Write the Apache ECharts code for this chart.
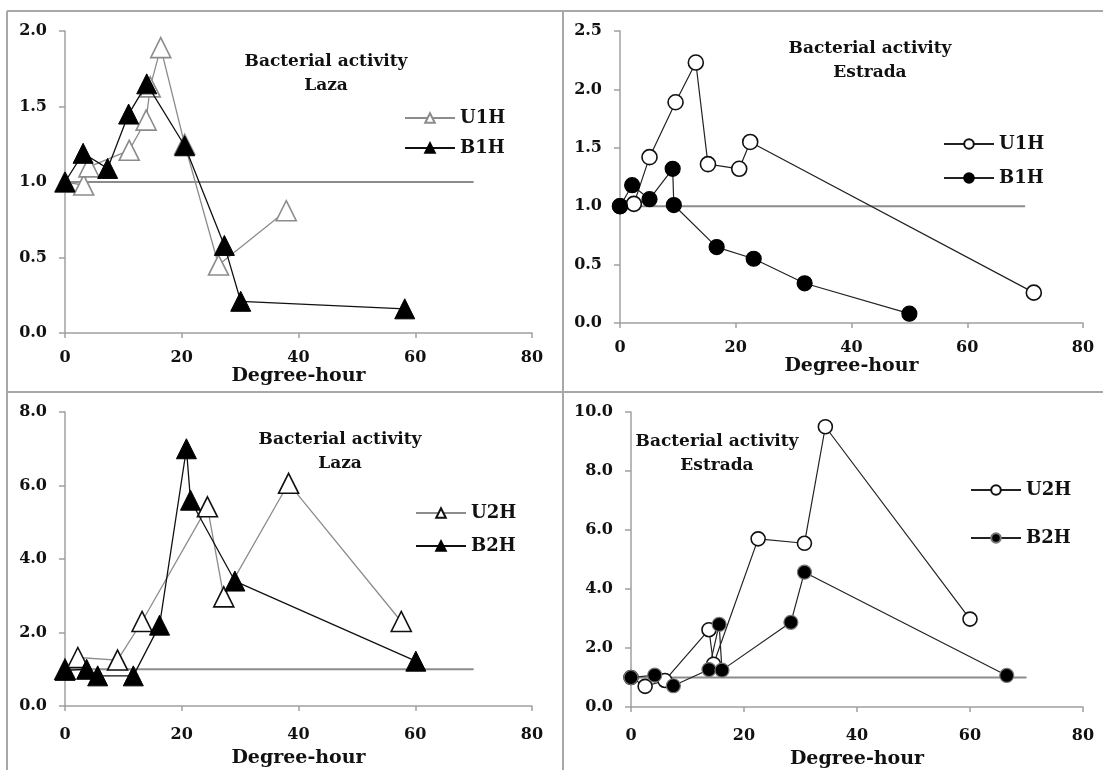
<!DOCTYPE html>
<html>
<head>
<meta charset="utf-8">
<script src="https://cdn.jsdelivr.net/npm/echarts@6/dist/echarts.min.js"></script>
<style>
html,body{margin:0;padding:0;background:#fff;}
#c{width:1103px;height:770px;}
</style>
</head>
<body>
<div id="c"></div>
<script>
// ---- data (x = degree-hour, y = bacterial activity) ----
const xTicks = [0, 20, 40, 60, 80];
const baseline = [[0, 1.0], [70, 1.0]];

// Panel A: Laza, 1H
const lazaU1H = [[0,1.0],[3.2,0.98],[4.1,1.10],[11.0,1.21],[13.9,1.41],[14.6,1.63],[16.4,1.89],[20.5,1.25],[26.3,0.45],[37.9,0.81]];
const lazaB1H = [[0,1.0],[3.1,1.19],[7.3,1.09],[10.9,1.45],[14.0,1.65],[20.5,1.24],[27.3,0.58],[30.1,0.21],[58.2,0.16]];

// Panel B: Estrada, 1H
const estU1H = [[0,1.0],[2.4,1.02],[5.1,1.42],[9.6,1.89],[13.1,2.23],[15.2,1.36],[20.6,1.32],[22.5,1.55],[71.5,0.26]];
const estB1H = [[0,1.0],[2.1,1.18],[5.1,1.06],[9.1,1.32],[9.3,1.01],[16.7,0.65],[23.1,0.55],[31.9,0.34],[50.0,0.08]];

// Panel C: Laza, 2H
const lazaU2H = [[0,1.0],[2.2,1.32],[9.0,1.25],[13.2,2.30],[24.4,5.42],[27.2,2.97],[38.3,6.06],[57.6,2.30]];
const lazaB2H = [[0,0.97],[3.7,1.0],[5.6,0.82],[11.7,0.82],[16.2,2.20],[20.8,7.00],[21.5,5.60],[29.1,3.40],[60.1,1.22]];

// Panel D: Estrada, 2H
const estU2H = [[0,1.0],[2.5,0.70],[6.0,0.90],[13.8,2.62],[14.6,1.45],[22.5,5.70],[30.7,5.55],[34.4,9.50],[60.0,2.98]];
const estB2H = [[0,1.0],[4.2,1.08],[7.5,0.72],[13.8,1.27],[15.6,2.80],[16.1,1.25],[28.3,2.87],[30.7,4.57],[66.5,1.07]];

const yMax = [2.0, 2.5, 8.0, 10.0];
const yInterval = [0.5, 0.5, 2.0, 2.0];
const titles = [['Bacterial activity','Laza'],['Bacterial activity','Estrada'],['Bacterial activity','Laza'],['Bacterial activity','Estrada']];
const xName = 'Degree-hour';

// ---- layout ----
const FONT = 'DejaVu Serif';
const grids = [
  {left: 65, top: 31, width: 467, height: 302},
  {left: 620, top: 31, width: 463, height: 292},
  {left: 65, top: 412, width: 467, height: 294},
  {left: 631, top: 412, width: 452, height: 295}
];
const labelMargin = [17, 17, 21, 21];
const nameGaps = [30, 30, 43, 43];

const chart = echarts.init(document.getElementById('c'));

const xAxes = grids.map((g, i) => ({
  type: 'value', gridIndex: i, min: xTicks[0], max: xTicks[xTicks.length-1], interval: 20,
  axisLine: {lineStyle: {color: '#a0a0a0', width: 1.5}},
  axisTick: {show: true, length: 5, lineStyle: {color: '#a0a0a0', width: 1.5}},
  splitLine: {show: false},
  axisLabel: {color: '#111', fontFamily: FONT, fontWeight: 'bold', fontSize: 16, margin: labelMargin[i]},
  name: xName, nameLocation: 'middle', nameGap: nameGaps[i],
  nameTextStyle: {color: '#111', fontFamily: FONT, fontWeight: 'bold', fontSize: 19, verticalAlign: 'top'}
}));
const yAxes = grids.map((g, i) => ({
  type: 'value', gridIndex: i, min: 0, max: yMax[i], interval: yInterval[i],
  axisLine: {show: true, lineStyle: {color: '#a0a0a0', width: 1.5}},
  axisTick: {show: true, length: 6, lineStyle: {color: '#a0a0a0', width: 1.5}},
  splitLine: {show: false},
  axisLabel: {color: '#111', fontFamily: FONT, fontWeight: 'bold', fontSize: 16, margin: 18,
    formatter: v => v.toFixed(1)}
}));

function baseSeries(i) {
  return {type: 'line', xAxisIndex: i, yAxisIndex: i, data: baseline, symbol: 'none',
    lineStyle: {color: '#8c8c8c', width: 2}, z: 1, silent: true, legendHoverLink: false};
}
function ser(name, i, data, opt) {
  return Object.assign({
    type: 'line', name: name, xAxisIndex: i, yAxisIndex: i, data: data,
    showAllSymbol: true, animation: false, z: 3
  }, opt);
}

const triOpen = (lineColor, border, size) => ({
  symbol: 'triangle', symbolSize: size,
  lineStyle: {color: lineColor, width: 1.3},
  itemStyle: {color: '#fff', borderColor: border, borderWidth: 1.6}
});
const triFill = (size) => ({
  symbol: 'triangle', symbolSize: size,
  lineStyle: {color: '#111', width: 1.3},
  itemStyle: {color: '#000', borderColor: '#000', borderWidth: 1}
});
const circOpen = (size) => ({
  symbol: 'circle', symbolSize: size,
  lineStyle: {color: '#222', width: 1.2},
  itemStyle: {color: '#fff', borderColor: '#111', borderWidth: 1.6}
});
const circFill = (size, border) => ({
  symbol: 'circle', symbolSize: size,
  lineStyle: {color: '#222', width: 1.2},
  itemStyle: {color: '#000', borderColor: border, borderWidth: 1.2}
});

const series = [
  baseSeries(0), baseSeries(1), baseSeries(2), baseSeries(3),
  ser('U1H', 0, lazaU1H, triOpen('#8c8c8c', '#8c8c8c', 20)),
  ser('B1H', 0, lazaB1H, Object.assign(triFill(20), {z: 4})),
  ser('U1H ', 1, estU1H, circOpen(15)),
  ser('B1H ', 1, estB1H, circFill(15, '#000')),
  ser('U2H', 2, lazaU2H, triOpen('#8c8c8c', '#111', 20)),
  ser('B2H', 2, lazaB2H, Object.assign(triFill(20), {z: 4})),
  ser('U2H ', 3, estU2H, circOpen(14)),
  ser('B2H ', 3, estB2H, circFill(14, '#777'))
];

const legendText = {color: '#111', fontFamily: FONT, fontWeight: 'bold', fontSize: 18};
function legend(names, left, top, gap) {
  return {orient: 'vertical', left: left, top: top, itemWidth: 50, itemHeight: 12,
    itemGap: gap, data: names, textStyle: legendText, selectedMode: false,
    formatter: n => n.trim()};
}

const titleOpts = [];
const tpos = [[321, 45], [865, 32], [335, 423], [712, 425]];
titles.forEach((t, i) => {
  titleOpts.push({text: t[0] + '\n' + t[1], left: tpos[i][0], top: tpos[i][1], textAlign: 'center',
    textStyle: {color: '#111', fontFamily: FONT, fontWeight: 'bold', fontSize: 17, lineHeight: 24, align: 'center'}});
});

chart.setOption({
  animation: false,
  backgroundColor: '#fff',
  title: titleOpts,
  grid: grids,
  xAxis: xAxes,
  yAxis: yAxes,
  legend: [
    legend(['U1H', 'B1H'], 399, 104, 12),
    legend(['U1H ', 'B1H '], 938, 130, 16),
    legend(['U2H', 'B2H'], 410, 499, 15),
    legend(['U2H ', 'B2H '], 965, 476, 30)
  ],
  series: series,
  graphic: [
    {type: 'line', shape: {x1: 7, y1: 11, x2: 1103, y2: 11}, style: {stroke: '#a8a8a8', lineWidth: 2}},
    {type: 'line', shape: {x1: 7, y1: 11, x2: 7, y2: 770}, style: {stroke: '#a8a8a8', lineWidth: 2}},
    {type: 'line', shape: {x1: 563, y1: 11, x2: 563, y2: 770}, style: {stroke: '#a8a8a8', lineWidth: 2}},
    {type: 'line', shape: {x1: 7, y1: 392, x2: 1103, y2: 392}, style: {stroke: '#a8a8a8', lineWidth: 2}}
  ]
});
</script>
</body>
</html>
